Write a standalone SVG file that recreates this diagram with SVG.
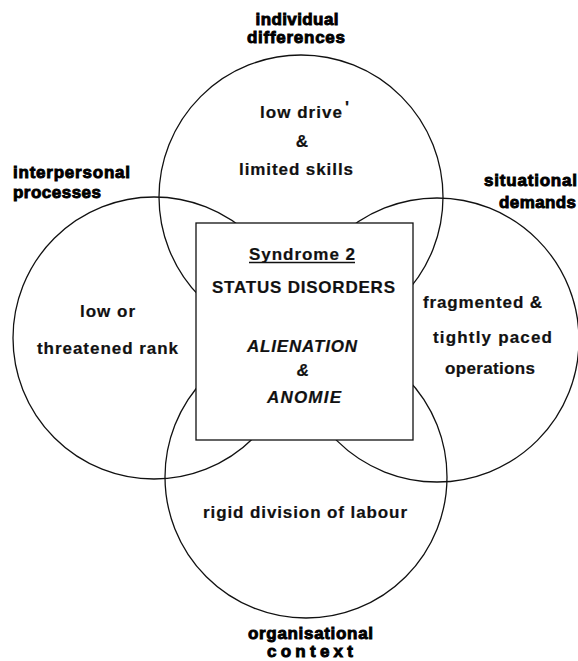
<svg xmlns="http://www.w3.org/2000/svg" width="578" height="661" viewBox="0 0 578 661">
  <style>
    .ring { fill: none; stroke: #111; stroke-width: 1.3; }
    .box { fill: #fff; stroke: #111; stroke-width: 1.3; }
    .lbl { font-family: "Liberation Sans", Arial, sans-serif; font-size: 17px; font-weight: bold; fill: #000; stroke: #000; stroke-width: 0.9; }
    .txt { font-family: "Liberation Sans", Arial, sans-serif; font-size: 17px; font-weight: bold; fill: #111; stroke: #111; stroke-width: 0.2; }
    .it { font-style: italic; }
  </style>
  <rect width="578" height="661" fill="#fff"/>

  <!-- four overlapping domains -->
  <g id="connectors">
  </g>
  <g id="individual-differences">
    <circle class="ring" cx="301" cy="197" r="142"/>
    <text class="lbl" x="297" y="25" text-anchor="middle" textLength="83" lengthAdjust="spacing">individual</text>
    <text class="lbl" x="296" y="43" text-anchor="middle" textLength="98" lengthAdjust="spacing">differences</text>
    <text class="txt" x="260" y="118" textLength="82" lengthAdjust="spacing">low drive</text>
    <text class="txt" x="345" y="113" font-size="10">'</text>
    <text class="txt" x="302" y="147" text-anchor="middle">&amp;</text>
    <text class="txt" x="239" y="175" textLength="114" lengthAdjust="spacing">limited skills</text>
  </g>
  <g id="interpersonal-processes">
    <circle class="ring" cx="154" cy="338" r="141"/>
    <text class="lbl" x="13" y="178" textLength="117" lengthAdjust="spacing">interpersonal</text>
    <text class="lbl" x="13" y="198" textLength="88" lengthAdjust="spacing">processes</text>
    <text class="txt" x="80" y="317" textLength="55" lengthAdjust="spacing">low or</text>
    <text class="txt" x="37" y="354" textLength="141" lengthAdjust="spacing">threatened rank</text>
  </g>
  <g id="situational-demands">
    <circle class="ring" cx="437" cy="340" r="142"/>
    <text class="lbl" x="577" y="186" text-anchor="end" textLength="93" lengthAdjust="spacing">situational</text>
    <text class="lbl" x="576" y="208" text-anchor="end" textLength="77" lengthAdjust="spacing">demands</text>
    <text class="txt" x="423" y="308" textLength="119" lengthAdjust="spacing">fragmented &amp;</text>
    <text class="txt" x="433" y="343" textLength="119" lengthAdjust="spacing">tightly paced</text>
    <text class="txt" x="445" y="374" textLength="90" lengthAdjust="spacing">operations</text>
  </g>
  <g id="organisational-context">
    <circle class="ring" cx="306" cy="477" r="141"/>
    <text class="lbl" x="248" y="639" textLength="125" lengthAdjust="spacing">organisational</text>
    <text class="lbl" x="267" y="657" textLength="86" lengthAdjust="spacing">context</text>
    <text class="txt" x="203" y="518" textLength="204" lengthAdjust="spacing">rigid division of labour</text>
  </g>

  <!-- central syndrome box -->
  <g id="syndrome-2">
    <rect class="box" x="196" y="223" width="217" height="217"/>
    <text class="txt" x="249" y="260" textLength="106" lengthAdjust="spacing">Syndrome 2</text>
    <line x1="249" y1="262.5" x2="355" y2="262.5" stroke="#111" stroke-width="1.3"/>
    <text class="txt" x="212" y="293" textLength="183" lengthAdjust="spacing">STATUS DISORDERS</text>
    <text class="txt it" x="247" y="352" textLength="110" lengthAdjust="spacing">ALIENATION</text>
    <text class="txt it" x="303" y="376" text-anchor="middle">&amp;</text>
    <text class="txt it" x="267" y="403" textLength="74" lengthAdjust="spacing">ANOMIE</text>
  </g>
</svg>
